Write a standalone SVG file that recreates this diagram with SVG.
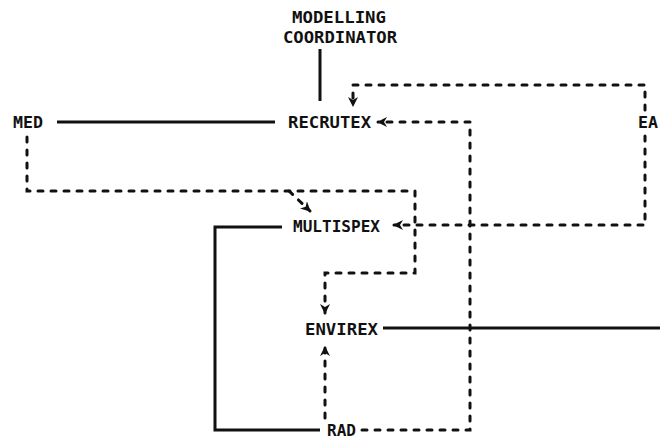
<svg xmlns="http://www.w3.org/2000/svg" width="660" height="441" viewBox="0 0 660 441">
<style>
  text { font-family: "DejaVu Sans Mono", "Liberation Mono", monospace; font-weight: bold; font-size: 16px; fill: #111; }
  .solid { fill: none; stroke: #111; stroke-width: 3; }
  .dash { fill: none; stroke: #111; stroke-width: 3; stroke-dasharray: 5 8; stroke-linecap: round; }
</style>
<defs>
  <marker id="ah" viewBox="0 0 10 10" refX="9" refY="5" markerWidth="10" markerHeight="10" orient="auto" markerUnits="userSpaceOnUse">
    <path d="M0,0 L10,5 L0,10 L3,5 z" fill="#111"/>
  </marker>
</defs>
<rect width="660" height="441" fill="#fff"/>
<g id="connectors">
  <path class="solid" d="M320,49 V101"/>
  <path class="solid" d="M57,122 H275"/>
  <path class="solid" d="M282,227 H215 V430 H320"/>
  <path class="solid" d="M383,328 H660"/>
  <path class="dash" d="M27,137 V191 H415 V273 H325 V313" marker-end="url(#ah)"/>
  <path class="dash" d="M289,191 L310,211" marker-end="url(#ah)"/>
  <path class="dash" d="M645,110 V85 H353 V106" marker-end="url(#ah)"/>
  <path class="dash" d="M645,136 V225 H394" marker-end="url(#ah)"/>
  <path class="dash" d="M362,430 H470 V122 H378" marker-end="url(#ah)"/>
  <path class="dash" d="M325,418 V347" marker-end="url(#ah)"/>
</g>
<g id="modelling-coordinator">
  <text x="292" y="23" textLength="94" lengthAdjust="spacingAndGlyphs">MODELLING</text>
  <text x="283" y="43" textLength="114" lengthAdjust="spacingAndGlyphs">COORDINATOR</text>
</g>
<g id="med"><text x="13" y="128" textLength="30" lengthAdjust="spacingAndGlyphs">MED</text></g>
<g id="recrutex"><text x="288" y="128" textLength="83" lengthAdjust="spacingAndGlyphs">RECRUTEX</text></g>
<g id="ea"><text x="638" y="128" textLength="20" lengthAdjust="spacingAndGlyphs">EA</text></g>
<g id="multispex"><text x="293" y="232" textLength="87" lengthAdjust="spacingAndGlyphs">MULTISPEX</text></g>
<g id="envirex"><text x="305" y="335" textLength="73" lengthAdjust="spacingAndGlyphs">ENVIREX</text></g>
<g id="rad"><text x="327" y="436" textLength="29" lengthAdjust="spacingAndGlyphs">RAD</text></g>
</svg>
